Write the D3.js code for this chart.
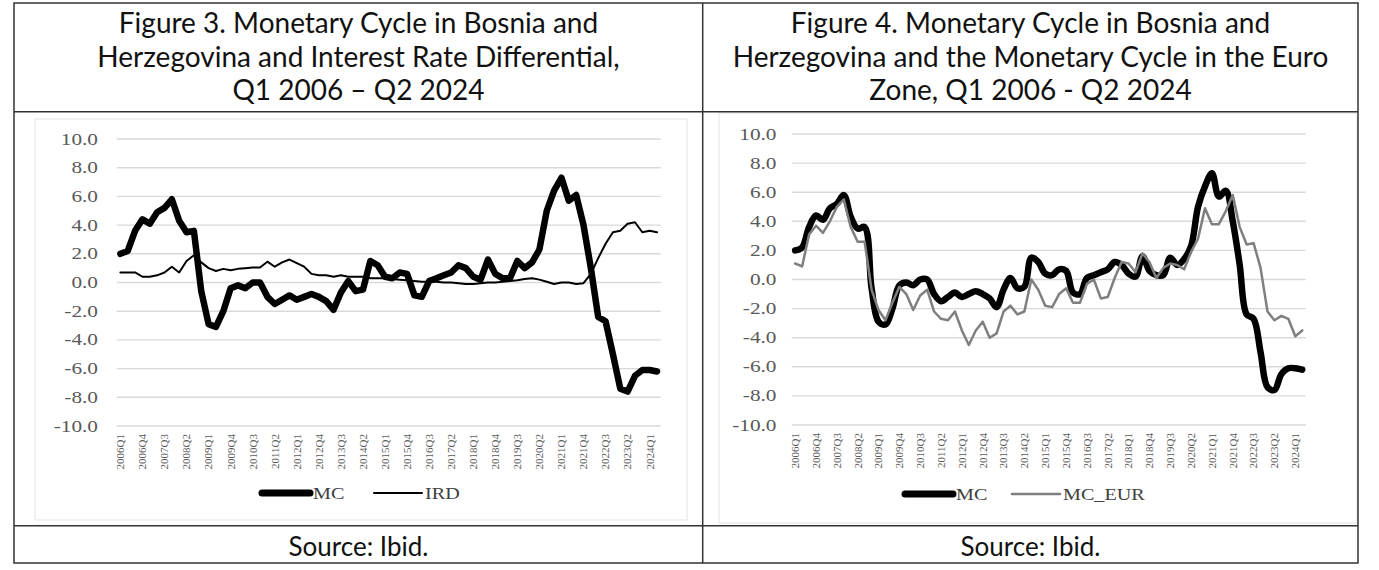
<!DOCTYPE html>
<html>
<head>
<meta charset="utf-8">
<script src="https://cdn.jsdelivr.net/npm/d3@7"></script>
<style>
  body { margin: 0; background: #fff; }
  svg { display: block; }
</style>
</head>
<body>
<svg id="chart" width="1379" height="570"></svg>
<script>
// quarters Q1 2006 .. Q2 2024
const quarters = [];
for (let yr = 2006; yr <= 2024; yr++) {
  for (let q = 1; q <= 4; q++) quarters.push(`${yr}Q${q}`);
}
quarters.splice(74);

const tickLabels = ['2006Q1', '2006Q4', '2007Q3', '2008Q2', '2009Q1', '2009Q4', '2010Q3',
  '2011Q2', '2012Q1', '2012Q4', '2013Q3', '2014Q2', '2015Q1', '2015Q4', '2016Q3',
  '2017Q2', '2018Q1', '2018Q4', '2019Q3', '2020Q2', '2021Q1', '2021Q4', '2022Q3',
  '2023Q2', '2024Q1'];

const yTicks = [10, 8, 6, 4, 2, 0, -2, -4, -6, -8, -10];

// monetary cycle, Bosnia and Herzegovina
const mc = [2.0, 2.2, 3.6, 4.4, 4.1, 4.9, 5.2, 5.8, 4.3, 3.5, 3.6, -0.6, -2.9, -3.1,
  -2.0, -0.4, -0.2, -0.4, 0.0, 0.0, -1.0, -1.5, -1.2, -0.9, -1.2, -1.0, -0.8, -1.0,
  -1.3, -1.9, -0.7, 0.1, -0.6, -0.5, 1.5, 1.2, 0.4, 0.3, 0.7, 0.6, -0.9, -1.0,
  0.1, 0.3, 0.5, 0.7, 1.2, 1.0, 0.4, 0.2, 1.6, 0.6, 0.3, 0.3, 1.5, 1.0,
  1.4, 2.3, 5.0, 6.4, 7.3, 5.7, 6.1, 4.0, 1.0, -2.4, -2.7, -5.0, -7.4, -7.6,
  -6.5, -6.1, -6.1, -6.2];

// interest rate differential
const ird = [0.7, 0.7, 0.7, 0.4, 0.4, 0.5, 0.7, 1.1, 0.7, 1.5, 1.9, 1.4, 1.0, 0.8,
  0.95, 0.85, 0.95, 1.0, 1.05, 1.05, 1.45, 1.1, 1.4, 1.6, 1.35, 1.1, 0.6, 0.5,
  0.5, 0.4, 0.5, 0.4, 0.4, 0.4, 0.3, 0.3, 0.3, 0.25, 0.2, 0.15, 0.1, 0.05,
  0.05, 0.05, 0.0, 0.0, -0.05, -0.1, -0.1, -0.05, 0.0, 0.0, 0.05, 0.1, 0.15, 0.25,
  0.3, 0.2, 0.05, -0.1, 0.0, 0.0, -0.1, -0.05, 0.6, 1.7, 2.7, 3.5, 3.6, 4.1,
  4.2, 3.5, 3.6, 3.5];

// monetary cycle, euro zone
const mcEur = [1.1, 0.9, 3.1, 3.7, 3.2, 4.0, 5.0, 5.5, 3.6, 2.6, 2.6, -0.7, -2.1, -2.8,
  -1.6, -0.5, -1.0, -2.1, -1.1, -0.7, -2.2, -2.7, -2.8, -2.2, -3.5, -4.5, -3.5, -2.9,
  -4.0, -3.7, -2.2, -1.8, -2.4, -2.2, 0.0, -0.7, -1.8, -1.9, -1.0, -0.6, -1.6, -1.6,
  -0.3, 0.0, -1.3, -1.2, 0.1, 1.2, 1.1, 0.5, 1.8, 1.2, 0.1, 0.8, 1.1, 1.0,
  0.7, 1.9, 2.8, 4.9, 3.8, 3.8, 4.7, 5.8, 3.6, 2.4, 2.5, 0.8, -2.2, -2.8,
  -2.5, -2.7, -3.9, -3.5];

const svg = d3.select('#chart');
svg.append('rect').attr('width', 1379).attr('height', 570).attr('fill', '#fff');

const serif = '"Liberation Serif", "Times New Roman", serif';
const sans = 'Lato, "Noto Sans", sans-serif';

// stretch a text node horizontally, keeping its right or left edge
function stretch(node, k, rightEdge) {
  const w = node.getComputedTextLength() * k;
  node.setAttribute('textLength', w);
  node.setAttribute('lengthAdjust', 'spacingAndGlyphs');
  if (rightEdge !== undefined) node.setAttribute('x', rightEdge - w);
}

function drawPanel(p) {
  const g = svg.append('g');

  g.append('rect')
    .attr('x', p.frame[0]).attr('y', p.frame[1])
    .attr('width', p.frame[2] - p.frame[0]).attr('height', p.frame[3] - p.frame[1])
    .attr('fill', 'none').attr('stroke', '#e3e3e3').attr('stroke-width', 1);

  const x = d3.scalePoint().domain(quarters).range([p.left, p.right]).padding(0.5);
  const y = d3.scaleLinear().domain([-10, 10]).range([p.bottom, p.top]);

  g.selectAll('.grid').data(yTicks).join('line')
    .attr('x1', p.left).attr('x2', p.right)
    .attr('y1', (d) => y(d)).attr('y2', (d) => y(d))
    .attr('stroke', '#d9d9d9').attr('stroke-width', 1.4);

  g.selectAll('.ylab').data(yTicks).join('text')
    .attr('y', (d) => y(d) + 5.5)
    .attr('font-family', serif).attr('font-size', 16).attr('fill', '#595959')
    .text((d) => d.toFixed(1))
    .each(function () { stretch(this, 1.33, p.labelRight); });

  g.selectAll('.xlab').data(tickLabels).join('text')
    .attr('transform', (d) => `translate(${x(d)},${p.bottom + 8}) rotate(-90)`)
    .attr('text-anchor', 'end').attr('dy', '0.35em')
    .attr('font-family', serif).attr('font-size', 11).attr('fill', '#595959')
    .text((d) => d);

  p.series.forEach((s) => {
    const line = d3.line()
      .x((d, i) => x(quarters[i]))
      .y((d) => y(d))
      .curve(s.smooth ? d3.curveCatmullRom : d3.curveLinear);
    g.append('path')
      .attr('d', line(s.values))
      .attr('fill', 'none').attr('stroke', s.color).attr('stroke-width', s.width)
      .attr('stroke-linejoin', 'round').attr('stroke-linecap', 'round');
  });

  // legend
  p.legend.forEach((l) => {
    g.append('line')
      .attr('x1', l.x).attr('x2', l.x + 48).attr('y1', p.legendY).attr('y2', p.legendY)
      .attr('stroke', l.color).attr('stroke-width', l.width).attr('stroke-linecap', 'round');
    g.append('text')
      .attr('x', l.x + 51).attr('y', p.legendY + 6)
      .attr('font-family', serif).attr('font-size', 16.5).attr('fill', '#404040')
      .text(l.name)
      .each(function () { stretch(this, 1.22); });
  });
}

drawPanel({
  frame: [35, 119, 687, 520],
  left: 116.7, right: 660.7, top: 139, bottom: 426, labelRight: 98,
  legendY: 493,
  series: [
    { values: mc, color: '#000', width: 6.5 },
    { values: ird, color: '#000', width: 2 },
  ],
  legend: [
    { name: 'MC', x: 262, color: '#000', width: 7 },
    { name: 'IRD', x: 374, color: '#000', width: 2 },
  ],
});

drawPanel({
  frame: [719, 113, 1357, 523],
  left: 791.7, right: 1305.7, top: 134, bottom: 425, labelRight: 776.5,
  legendY: 494,
  series: [
    { values: mc, color: '#000', width: 6.5, smooth: true },
    { values: mcEur, color: '#7f7f7f', width: 2.5 },
  ],
  legend: [
    { name: 'MC', x: 905, color: '#000', width: 7 },
    { name: 'MC_EUR', x: 1012, color: '#7f7f7f', width: 2.5 },
  ],
});

// table around the two figures
const border = svg.append('g').attr('stroke', '#333').attr('stroke-width', 1.5).attr('fill', 'none');
border.append('rect').attr('x', 14).attr('y', 3).attr('width', 1344).attr('height', 560);
border.append('line').attr('x1', 14).attr('x2', 1358).attr('y1', 111.7).attr('y2', 111.7);
border.append('line').attr('x1', 14).attr('x2', 1358).attr('y1', 525.7).attr('y2', 525.7);
border.append('line').attr('x1', 702.7).attr('x2', 702.7).attr('y1', 3).attr('y2', 563);

const titles = [
  { cx: 358.5, lines: ['Figure 3. Monetary Cycle in Bosnia and',
    'Herzegovina and Interest Rate Differential,', 'Q1 2006 \u2013 Q2 2024'] },
  { cx: 1030.5, lines: ['Figure 4. Monetary Cycle in Bosnia and',
    'Herzegovina and the Monetary Cycle in the Euro', 'Zone, Q1 2006 - Q2 2024'] },
];
titles.forEach((t) => {
  svg.selectAll(null).data(t.lines).join('text')
    .attr('x', t.cx).attr('y', (d, i) => 33 + i * 33.7)
    .attr('text-anchor', 'middle')
    .attr('font-family', sans).attr('font-size', 28).attr('fill', '#111')
    .text((d) => d);
  svg.append('text')
    .attr('x', t.cx).attr('y', 556)
    .attr('text-anchor', 'middle')
    .attr('font-family', sans).attr('font-size', 26).attr('fill', '#111')
    .text('Source: Ibid.');
});
</script>
</body>
</html>
